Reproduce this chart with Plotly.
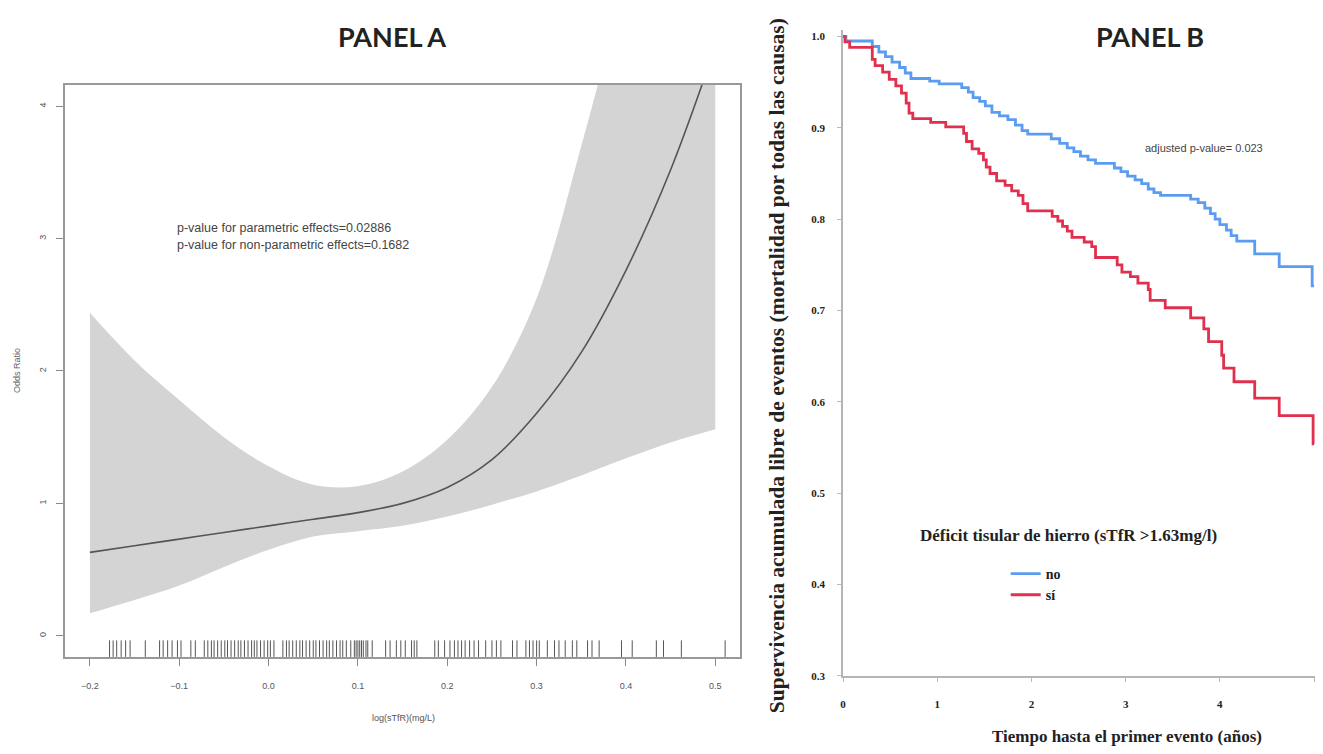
import plotly.graph_objects as go

# page offset of the plot div (browser default body margin) and the
# small vertical squeeze of the screenshot (page ~760 px tall -> 754)
OFF = 8
W, H = 1323 - 2 * OFF, 754 - 2 * OFF
K = 760.0 / 754.0

# ---------------- Panel A data ----------------
a_x = [-0.2, -0.15, -0.1, -0.05, 0.0, 0.05, 0.1, 0.15, 0.2, 0.25, 0.3, 0.35, 0.4, 0.45, 0.5]
a_fit = [0.63, 0.68, 0.73, 0.78, 0.83, 0.88, 0.93, 1.00, 1.12, 1.33, 1.68, 2.14, 2.76, 3.52, 4.45]
a_upper = [2.44, 2.08, 1.78, 1.50, 1.28, 1.14, 1.13, 1.24, 1.48, 1.88, 2.55, 3.70, 5.0, 6.5, 8.0]
a_lower = [0.17, 0.27, 0.38, 0.52, 0.65, 0.75, 0.79, 0.83, 0.90, 0.99, 1.09, 1.21, 1.34, 1.46, 1.56]
a_rug = [-0.178, -0.174, -0.170, -0.165, -0.160, -0.155, -0.138,
         -0.122, -0.118, -0.113, -0.108, -0.102, -0.098, -0.087, -0.082,
         -0.072, -0.068, -0.064, -0.061, -0.057, -0.053, -0.049, -0.046, -0.042,
         -0.038, -0.034, -0.031, -0.027, -0.023, -0.019, -0.016, -0.013, -0.009,
         -0.005, -0.001, 0.002, 0.006,
         0.016, 0.020, 0.023, 0.027, 0.031, 0.035, 0.038, 0.042, 0.046, 0.050,
         0.053, 0.057, 0.061, 0.065, 0.068, 0.072, 0.076, 0.080, 0.083, 0.087,
         0.092, 0.096, 0.098, 0.100, 0.102, 0.104, 0.106, 0.109, 0.111, 0.116,
         0.131, 0.136, 0.143, 0.148, 0.153, 0.160, 0.163, 0.166,
         0.186, 0.190, 0.197, 0.203, 0.208, 0.212, 0.216, 0.220, 0.225, 0.230,
         0.235, 0.243, 0.250, 0.255, 0.260,
         0.273, 0.278, 0.288, 0.292, 0.296, 0.300, 0.303,
         0.312, 0.320, 0.325, 0.332, 0.340, 0.345,
         0.357, 0.362, 0.370, 0.395, 0.407, 0.434, 0.442, 0.462, 0.511]
a_xticks = [-0.2, -0.1, 0.0, 0.1, 0.2, 0.3, 0.4, 0.5]
a_yticks = [0, 1, 2, 3, 4]

# ---------------- Panel B data ----------------
no_t = [0, 0.03, 0.31, 0.38, 0.45, 0.52, 0.60, 0.66, 0.72, 0.92,
        1.02, 1.26, 1.33, 1.38, 1.45, 1.51, 1.58, 1.66, 1.75, 1.83,
        1.90, 1.96, 2.21, 2.30, 2.38, 2.45, 2.52, 2.60, 2.68, 2.88,
        2.95, 3.02, 3.10, 3.17, 3.24, 3.30, 3.37, 3.69, 3.77, 3.84,
        3.90, 3.95, 4.00, 4.07, 4.12, 4.18, 4.37, 4.63, 4.98, 5.0]
no_s = [1.0, 0.995, 0.989, 0.983, 0.978, 0.972, 0.966, 0.960, 0.954, 0.951,
        0.948, 0.944, 0.939, 0.933, 0.929, 0.924, 0.917, 0.913, 0.909, 0.903,
        0.897, 0.893, 0.888, 0.883, 0.878, 0.874, 0.869, 0.865, 0.861, 0.856,
        0.852, 0.847, 0.843, 0.839, 0.833, 0.829, 0.826, 0.822, 0.818, 0.812,
        0.806, 0.800, 0.794, 0.788, 0.782, 0.776, 0.762, 0.748, 0.727, 0.727]
si_t = [0, 0.02, 0.07, 0.31, 0.34, 0.42, 0.49, 0.56, 0.62, 0.67,
        0.70, 0.74, 0.93, 1.09, 1.28, 1.31, 1.37, 1.44, 1.49, 1.52,
        1.56, 1.63, 1.72, 1.79, 1.86, 1.91, 1.96, 2.22, 2.28, 2.33,
        2.38, 2.43, 2.56, 2.64, 2.68, 2.91, 2.96, 3.05, 3.13, 3.24,
        3.26, 3.42, 3.69, 3.83, 3.88, 4.02, 4.04, 4.15, 4.37, 4.63,
        4.99, 5.0]
si_s = [1.0, 0.994, 0.988, 0.975, 0.968, 0.961, 0.953, 0.946, 0.938, 0.927,
        0.916, 0.910, 0.906, 0.901, 0.894, 0.885, 0.877, 0.872, 0.865, 0.857,
        0.850, 0.842, 0.837, 0.831, 0.826, 0.817, 0.809, 0.803, 0.798, 0.792,
        0.787, 0.780, 0.775, 0.770, 0.758, 0.750, 0.742, 0.737, 0.730, 0.723,
        0.711, 0.703, 0.692, 0.680, 0.666, 0.651, 0.637, 0.622, 0.604, 0.585,
        0.554, 0.554]
b_xticks = [0, 1, 2, 3, 4, 5]
b_yticks = [0.3, 0.4, 0.5, 0.6, 0.7, 0.8, 0.9, 1.0]
group_labels = ["no", "sí"]


def px(x):
    return (x - OFF) / W


def py(y, k=K):
    return 1 - (y * k - OFF) / H


fig = go.Figure()

# Panel A: confidence band
fig.add_trace(go.Scatter(x=a_x, y=a_lower, mode="lines", line=dict(width=0, shape="spline"),
                         showlegend=False, hoverinfo="skip", xaxis="x", yaxis="y"))
fig.add_trace(go.Scatter(x=a_x, y=a_upper, mode="lines", line=dict(width=0, shape="spline"),
                         fill="tonexty", fillcolor="#d4d4d4",
                         showlegend=False, hoverinfo="skip", xaxis="x", yaxis="y"))
fig.add_trace(go.Scatter(x=a_x, y=a_fit, mode="lines",
                         line=dict(color="#555555", width=1.6, shape="spline"),
                         showlegend=False, xaxis="x", yaxis="y"))
# rug
rx, ry = [], []
for v in a_rug:
    rx += [v, v, None]
    ry += [-0.16, -0.035, None]
fig.add_trace(go.Scatter(x=rx, y=ry, mode="lines", line=dict(color="#555555", width=1),
                         showlegend=False, hoverinfo="skip", xaxis="x", yaxis="y"))

# Panel B: KM curves
fig.add_trace(go.Scatter(x=no_t, y=no_s, mode="lines", name=group_labels[0],
                         line=dict(color="#5b9cf0", width=2.8, shape="hv"),
                         xaxis="x2", yaxis="y2"))
fig.add_trace(go.Scatter(x=si_t, y=si_s, mode="lines", name=group_labels[1],
                         line=dict(color="#e0304e", width=2.8, shape="hv"),
                         xaxis="x2", yaxis="y2"))

tickA = dict(family="Liberation Sans", size=9, color="#555555")
tickB = dict(family="Liberation Serif", size=11, color="#222222", weight="bold")

fig.update_layout(
    width=W, height=H, autosize=False,
    margin=dict(l=0, r=0, t=0, b=0),
    paper_bgcolor="white", plot_bgcolor="white",
    xaxis=dict(domain=[px(62), px(739)], range=[-0.228, 0.528], tickvals=a_xticks,
               tickformat=".1f", showgrid=False, zeroline=False,
               showline=True, mirror=True, linecolor="#999999", linewidth=1.5,
               ticks="outside", ticklen=7, tickcolor="#888888", tickfont=tickA,
               ticklabelstandoff=13, anchor="y"),
    yaxis=dict(domain=[py(657), py(85)], range=[-0.16, 4.16], tickvals=a_yticks,
               showgrid=False, zeroline=False,
               showline=True, mirror=True, linecolor="#999999", linewidth=1.5,
               ticks="outside", ticklen=7, tickcolor="#888888", tickfont=tickA,
               tickangle=-90, ticklabelstandoff=7, anchor="x"),
    xaxis2=dict(domain=[px(842), 1.0], range=[0, 5.01], tickvals=b_xticks,
                showgrid=False, zeroline=False,
                showline=True, linecolor="#b5b5b5", linewidth=2,
                ticks="outside", ticklen=4, tickcolor="#bbbbbb", tickfont=tickB,
                ticklabelstandoff=13, anchor="y2"),
    yaxis2=dict(domain=[py(676), py(30)], range=[0.3, 1.007], tickvals=b_yticks,
                tickformat=".1f", showgrid=False, zeroline=False,
                showline=True, linecolor="#b5b5b5", linewidth=2,
                ticks="outside", ticklen=4, tickcolor="#bbbbbb", tickfont=tickB,
                ticklabelstandoff=10, anchor="x2"),
    legend=dict(x=px(1005), y=py(558), xanchor="left", yanchor="top",
                bgcolor="rgba(0,0,0,0)", traceorder="normal",
                font=dict(family="Liberation Serif", size=14, color="#222222", weight="bold"),
                itemwidth=30, tracegroupgap=0),
    showlegend=True,
)


def note(x, y, text, font, xanchor="center", k=K, **kw):
    d = dict(x=px(x), y=py(y, k), xref="paper", yref="paper", text=text,
             showarrow=False, font=font, xanchor=xanchor, yanchor="middle")
    d.update(kw)
    return d


ann = [
    note(390, 36, "<b>PANEL A</b>", dict(family="Lato", size=27, color="#222222")),
    note(1150, 36, "<b>PANEL B</b>", dict(family="Lato", size=27, color="#222222")),
    note(172, 228, "p-value for parametric effects=0.02886",
         dict(family="Liberation Sans", size=12.5, color="#444444"), xanchor="left"),
    note(172, 245, "p-value for non-parametric effects=0.1682",
         dict(family="Liberation Sans", size=12.5, color="#444444"), xanchor="left"),
    note(14, 370, "Odds Ratio", dict(family="Liberation Sans", size=9, color="#666666"),
         textangle=-90),
    note(401, 718, "log(sTfR)(mg/L)", dict(family="Liberation Sans", size=9, color="#555555")),
    note(1204, 148, "adjusted p-value= 0.023",
         dict(family="Liberation Sans", size=11, color="#444444")),
    note(1068, 536, "<b>Déficit tisular de hierro (sTfR >1.63mg/l)</b>",
         dict(family="Liberation Serif", size=17, color="#222222")),
    note(776, 366,
         "<b>Supervivencia acumulada libre de eventos (mortalidad por todas las causas)</b>",
         dict(family="Liberation Serif", size=21.5, color="#222222"), textangle=-90),
    note(1127, 742, "<b>Tiempo hasta el primer evento (años)</b>",
         dict(family="Liberation Serif", size=17, color="#222222"), k=1.0),
]
fig.update_layout(annotations=ann)

fig.write_html("out.html")
